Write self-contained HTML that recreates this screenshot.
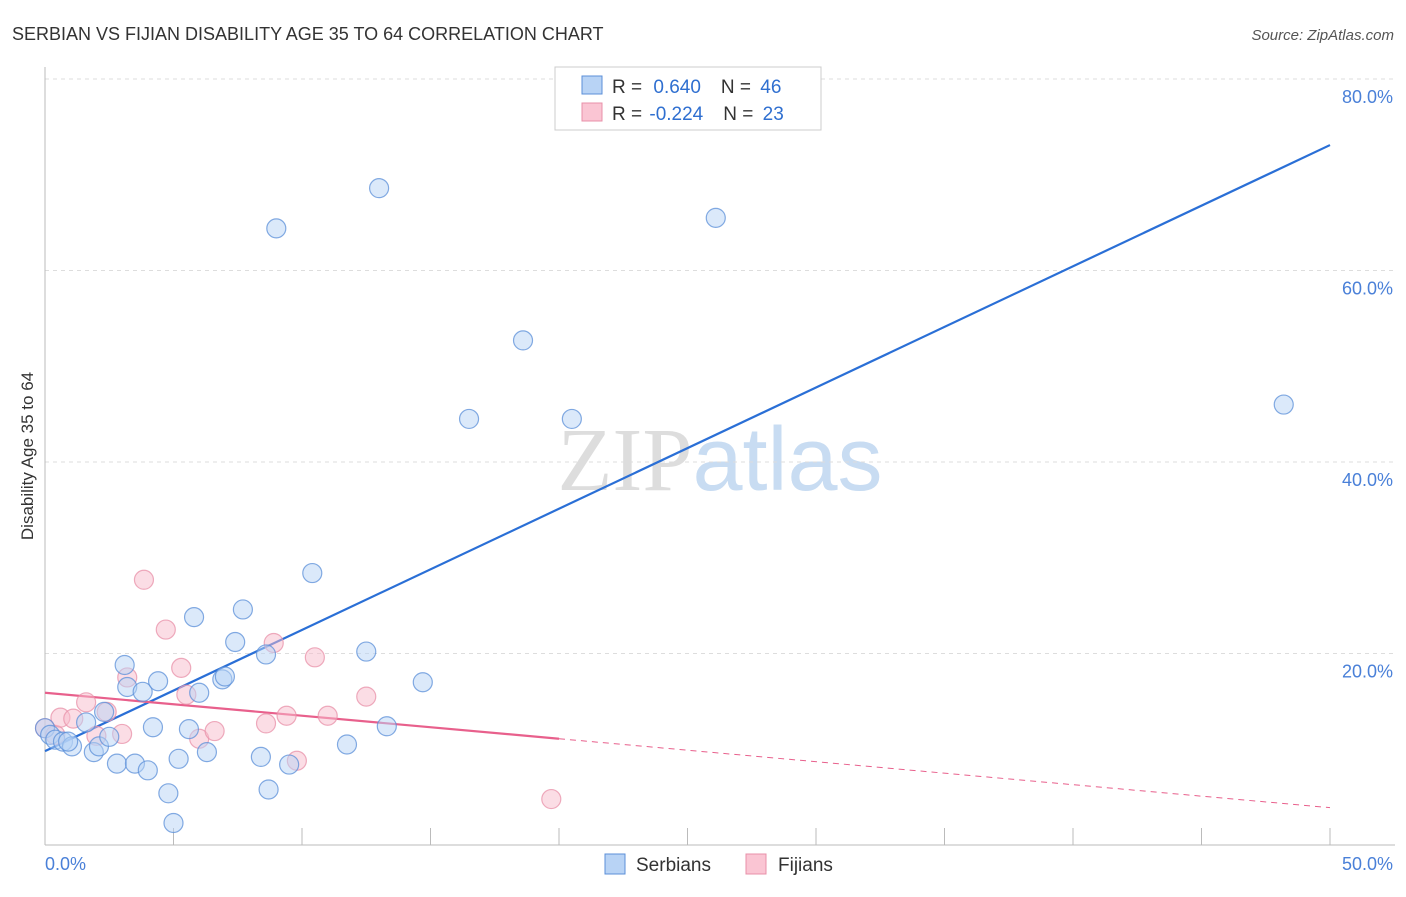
<!DOCTYPE html>
<html><head><meta charset="utf-8"><style>
body{margin:0;background:#fff;font-family:"Liberation Sans",sans-serif}
</style></head><body>
<svg id="chart" width="1406" height="892" xmlns="http://www.w3.org/2000/svg" font-family="Liberation Sans, sans-serif">
<text x="12" y="40" font-size="18" fill="#333">SERBIAN VS FIJIAN DISABILITY AGE 35 TO 64 CORRELATION CHART</text>
<text x="1394" y="40" font-size="15" fill="#555" text-anchor="end" font-style="italic">Source: ZipAtlas.com</text>
<text x="720" y="490" font-size="90" text-anchor="middle"><tspan fill="#ddd" font-family="Liberation Serif, serif">ZIP</tspan><tspan fill="#c8dcf2">atlas</tspan></text>
<text transform="translate(33,456) rotate(-90)" font-size="17" fill="#333" text-anchor="middle">Disability Age 35 to 64</text>
<g id="grid"></g><g id="axes"></g><g id="lines"></g><g id="pts"></g>
<g>
<rect x="555" y="67" width="266" height="63" fill="#fff" stroke="#ccc"/>
<rect x="582" y="76" width="20" height="18" fill="#b8d3f5" stroke="#5b8fd8"/>
<rect x="582" y="103" width="20" height="18" fill="#fac5d3" stroke="#e890a8"/>
<text x="612" y="93" font-size="19" fill="#333">R = <tspan fill="#2f6fd0" dx="6">0.640</tspan><tspan dx="20" fill="#333">N = </tspan><tspan fill="#2f6fd0" dx="4">46</tspan></text>
<text x="612" y="120" font-size="19" fill="#333">R = <tspan fill="#2f6fd0" dx="2">-0.224</tspan><tspan dx="20" fill="#333">N = </tspan><tspan fill="#2f6fd0" dx="4">23</tspan></text>
</g>
<g>
<rect x="605" y="854" width="20" height="20" fill="#b8d3f5" stroke="#5b8fd8"/>
<text x="636" y="871" font-size="19" fill="#333">Serbians</text>
<rect x="746" y="854" width="20" height="20" fill="#fac5d3" stroke="#e890a8"/>
<text x="778" y="871" font-size="19" fill="#333">Fijians</text>
</g>
</svg>
<script>
const serbX=[0,0.2,0.4,0.7,1.05,0.9,1.9,2.1,1.6,2.3,2.5,2.8,3.1,3.2,3.5,3.8,4.0,4.2,4.4,4.8,5.0,5.2,5.6,5.8,6.0,6.3,6.9,7.0,7.4,7.7,8.4,8.6,8.7,9.0,9.5,10.4,11.75,12.5,13.0,13.3,14.7,16.5,18.6,20.5,26.1,48.2];
const serbY=[12.2,11.5,11.0,10.8,10.3,10.8,9.7,10.3,12.8,13.9,11.3,8.5,18.8,16.5,8.5,16.0,7.8,12.3,17.1,5.4,2.3,9.0,12.1,23.8,15.9,9.7,17.3,17.6,21.2,24.6,9.2,19.9,5.8,64.4,8.4,28.4,10.5,20.2,68.6,12.4,17.0,44.5,52.7,44.5,65.5,46.0];
const fijX=[0,0.4,0.6,1.1,1.6,2.0,2.4,3.0,3.2,3.85,4.7,5.3,5.5,6.0,6.6,8.6,8.9,9.4,9.8,10.5,11.0,12.5,19.7];
const fijY=[12.2,11.5,13.3,13.2,14.9,11.4,13.9,11.6,17.5,27.7,22.5,18.5,15.7,11.1,11.9,12.7,21.1,13.5,8.8,19.6,13.5,15.5,4.8];
const serbTrend=[9.8,73.1];
const fijTrend=[15.9,3.9];
const yTicks=[20,40,60,80];
const xTickVals=[5,10,15,20,25,30,35,40,45,50];
const NS="http://www.w3.org/2000/svg";
const sx=v=>45+v*25.7, sy=v=>845-v*9.575;
function mk(tag,attrs,parent){const e=document.createElementNS(NS,tag);for(const k in attrs)e.setAttribute(k,attrs[k]);document.getElementById(parent).appendChild(e);return e;}
yTicks.forEach(t=>{
 const l=mk('line',{x1:45,x2:1395,y1:sy(t),y2:sy(t),stroke:'#ddd','stroke-dasharray':'4,4'},'grid');
 
 
 const tx=mk('text',{x:1393,y:sy(t)+24,'font-size':18,fill:'#4a80d8','text-anchor':'end'},'grid');tx.textContent=t.toFixed(1)+'%';
 
 
});
mk('line',{x1:45,x2:45,y1:67,y2:845,stroke:'#bbb'},'axes');
mk('line',{x1:45,x2:1395,y1:845,y2:845,stroke:'#bbb'},'axes');
xTickVals.forEach(t=>{const l=mk('line',{x1:sx(t),x2:sx(t),y1:828,y2:845,stroke:'#bbb'},'axes');
 
 });
let a=mk('text',{x:45,y:870,'font-size':18,fill:'#4a80d8'},'axes');a.textContent='0.0%';


a=mk('text',{x:1393,y:870,'font-size':18,fill:'#4a80d8','text-anchor':'end'},'axes');a.textContent='50.0%';


function dot(x,y,f,s,name){const c=mk('circle',{cx:sx(x),cy:sy(y),r:9.5,fill:f,'fill-opacity':0.5,stroke:s,'stroke-width':1.2,'stroke-opacity':0.75},'pts');
 
 }
fijX.forEach((x,i)=>dot(x,fijY[i],'#f8bccb','#e890a8','fijian-point'));
serbX.forEach((x,i)=>dot(x,serbY[i],'#b8d3f5','#5b8fd8','serbian-point'));
let ln=mk('line',{x1:sx(0),y1:sy(serbTrend[0]),x2:sx(50),y2:sy(serbTrend[1]),stroke:'#2a6fd6','stroke-width':2.2},'lines');


const fAt=x=>fijTrend[0]+(fijTrend[1]-fijTrend[0])*x/50;
ln=mk('line',{x1:sx(0),y1:sy(fAt(0)),x2:sx(20),y2:sy(fAt(20)),stroke:'#e8608c','stroke-width':2.2},'lines');


ln=mk('line',{x1:sx(20),y1:sy(fAt(20)),x2:sx(50),y2:sy(fAt(50)),stroke:'#e8608c','stroke-width':1,'stroke-dasharray':'6,5'},'lines');


</script>
</body></html>
